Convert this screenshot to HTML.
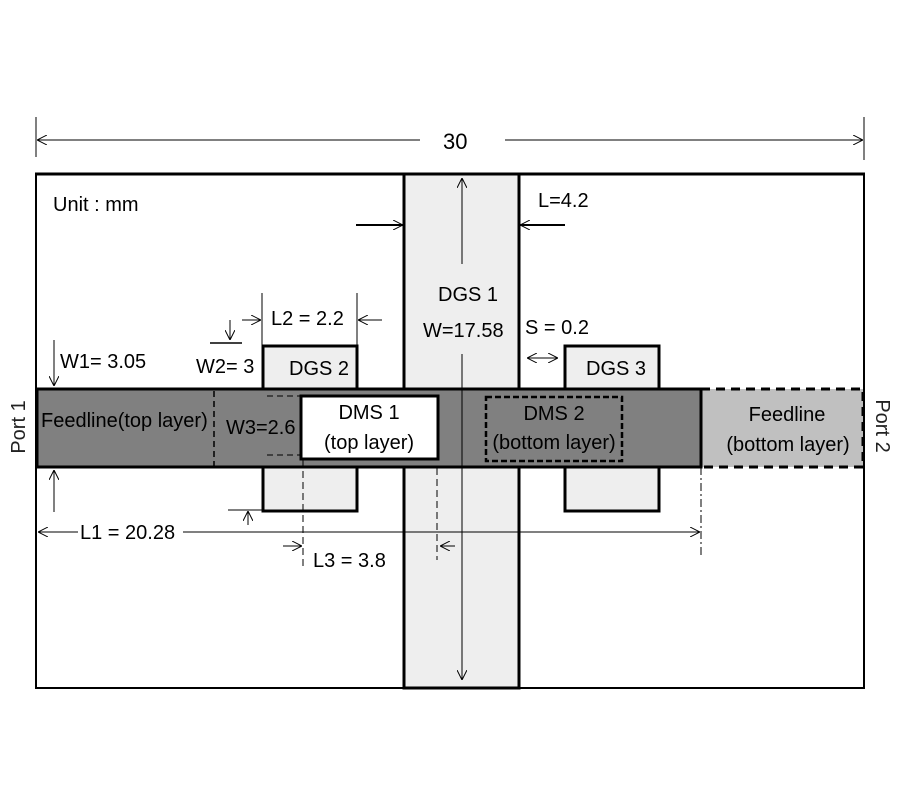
<!DOCTYPE html>
<html><head><style>body{margin:0;background:#fff}</style></head><body>
<svg width="900" height="800" xmlns="http://www.w3.org/2000/svg" font-family="Liberation Sans, sans-serif" font-size="20">
<defs>
<marker id="a" viewBox="0 0 10 10" refX="10" refY="5" markerWidth="10" markerHeight="10" orient="auto-start-reverse" markerUnits="userSpaceOnUse"><path d="M0,0 L10,5 L0,10" fill="none" stroke="#000" stroke-width="1"/></marker>
</defs>
<rect width="900" height="800" fill="#fff"/>
<!-- top dimension -->
<line x1="36" y1="117" x2="36" y2="157" stroke="#000"/>
<line x1="864" y1="117" x2="864" y2="160" stroke="#000"/>
<line x1="37" y1="140" x2="420" y2="140" stroke="#000" marker-start="url(#a)"/>
<line x1="505" y1="140" x2="863" y2="140" stroke="#000" marker-end="url(#a)"/>
<text x="443" y="149" font-size="22">30</text>
<!-- board -->
<rect x="36" y="174" width="828" height="514" fill="#fff" stroke="#000" stroke-width="2"/>
<line x1="35" y1="174" x2="865" y2="174" stroke="#000" stroke-width="3"/>
<!-- DGS1 -->
<rect x="404" y="174" width="115" height="514" fill="#eee" stroke="#000" stroke-width="3"/>
<!-- DGS2/3 -->
<rect x="263" y="346" width="94" height="43" fill="#eee" stroke="#000" stroke-width="3"/>
<rect x="263" y="467" width="94" height="44" fill="#eee" stroke="#000" stroke-width="3"/>
<rect x="565" y="346" width="94" height="43" fill="#eee" stroke="#000" stroke-width="3"/>
<rect x="565" y="467" width="94" height="44" fill="#eee" stroke="#000" stroke-width="3"/>
<!-- feedlines -->
<rect x="701" y="389" width="162" height="78" fill="#c0c0c0" stroke="#000" stroke-width="3" stroke-dasharray="9,6"/>
<rect x="37" y="389" width="664" height="78" fill="#808080" stroke="#000" stroke-width="3"/>
<line x1="214" y1="391" x2="214" y2="466" stroke="#000" stroke-width="1.5" stroke-dasharray="6,4"/>
<line x1="267" y1="396" x2="301" y2="396" stroke="#000" stroke-dasharray="6,4"/>
<line x1="267" y1="455" x2="301" y2="455" stroke="#000" stroke-dasharray="6,4"/>
<rect x="301" y="396" width="137" height="63" fill="#fff" stroke="#000" stroke-width="3"/>
<rect x="486" y="397" width="136" height="64" fill="none" stroke="#000" stroke-width="2.5" stroke-dasharray="6,3"/>
<!-- DGS1 vertical arrow -->
<line x1="462" y1="178" x2="462" y2="264" stroke="#000" marker-start="url(#a)"/>
<line x1="462" y1="354" x2="462" y2="680" stroke="#000" marker-end="url(#a)"/>
<!-- L=4.2 -->
<line x1="356" y1="225" x2="403" y2="225" stroke="#000" stroke-width="2" marker-end="url(#a)"/>
<line x1="565" y1="225" x2="520" y2="225" stroke="#000" stroke-width="2" marker-end="url(#a)"/>
<text x="538" y="207">L=4.2</text>
<text x="53" y="211">Unit : mm</text>
<text x="438" y="301">DGS 1</text>
<text x="423" y="337">W=17.58</text>
<!-- L2 -->
<line x1="262" y1="293" x2="262" y2="345" stroke="#000"/>
<line x1="357" y1="293" x2="357" y2="345" stroke="#000"/>
<line x1="242" y1="320" x2="261" y2="320" stroke="#000" marker-end="url(#a)"/>
<line x1="382" y1="320" x2="358" y2="320" stroke="#000" marker-end="url(#a)"/>
<text x="271" y="325">L2 = 2.2</text>
<!-- W2 -->
<line x1="210" y1="343" x2="242" y2="343" stroke="#000" stroke-width="1.5"/>
<line x1="230" y1="320" x2="230" y2="340" stroke="#000" marker-end="url(#a)"/>
<line x1="228" y1="510" x2="263" y2="510" stroke="#000"/>
<line x1="248" y1="525" x2="248" y2="511" stroke="#000" marker-end="url(#a)"/>
<text x="196" y="373">W2= 3</text>
<!-- W1 -->
<line x1="54" y1="340" x2="54" y2="386" stroke="#000" marker-end="url(#a)"/>
<line x1="54" y1="512" x2="54" y2="470" stroke="#000" marker-end="url(#a)"/>
<text x="60" y="368">W1= 3.05</text>
<text x="289" y="375">DGS 2</text>
<text x="586" y="375">DGS 3</text>
<text x="525" y="334">S = 0.2</text>
<line x1="527" y1="358" x2="558" y2="358" stroke="#000" marker-start="url(#a)" marker-end="url(#a)"/>
<!-- labels in feedline -->
<text x="41" y="427">Feedline(top layer)</text>
<text x="226" y="434">W3=2.6</text>
<text x="369" y="419" text-anchor="middle">DMS 1</text>
<text x="369" y="449" text-anchor="middle">(top layer)</text>
<text x="554" y="420" text-anchor="middle">DMS 2</text>
<text x="554" y="449" text-anchor="middle">(bottom layer)</text>
<text x="787" y="421" text-anchor="middle">Feedline</text>
<text x="788" y="451" text-anchor="middle">(bottom layer)</text>
<!-- L1 -->
<line x1="38" y1="532" x2="78" y2="532" stroke="#000" marker-start="url(#a)"/>
<line x1="183" y1="532" x2="700" y2="532" stroke="#000" marker-end="url(#a)"/>
<text x="80" y="539">L1 = 20.28</text>
<line x1="701" y1="467" x2="701" y2="558" stroke="#000" stroke-dasharray="8,3,2,3"/>
<!-- L3 -->
<line x1="303" y1="460" x2="303" y2="566" stroke="#000" stroke-dasharray="7,4"/>
<line x1="437" y1="468" x2="437" y2="560" stroke="#000" stroke-dasharray="7,4"/>
<line x1="283" y1="546" x2="302" y2="546" stroke="#000" marker-end="url(#a)"/>
<line x1="455" y1="546" x2="440" y2="546" stroke="#000" marker-end="url(#a)"/>
<text x="313" y="567">L3 = 3.8</text>
<!-- ports -->
<text transform="translate(25,427) rotate(-90)" text-anchor="middle" fill="#222">Port 1</text>
<text transform="translate(876,426) rotate(90)" text-anchor="middle" fill="#222">Port 2</text>
</svg>
</body></html>
